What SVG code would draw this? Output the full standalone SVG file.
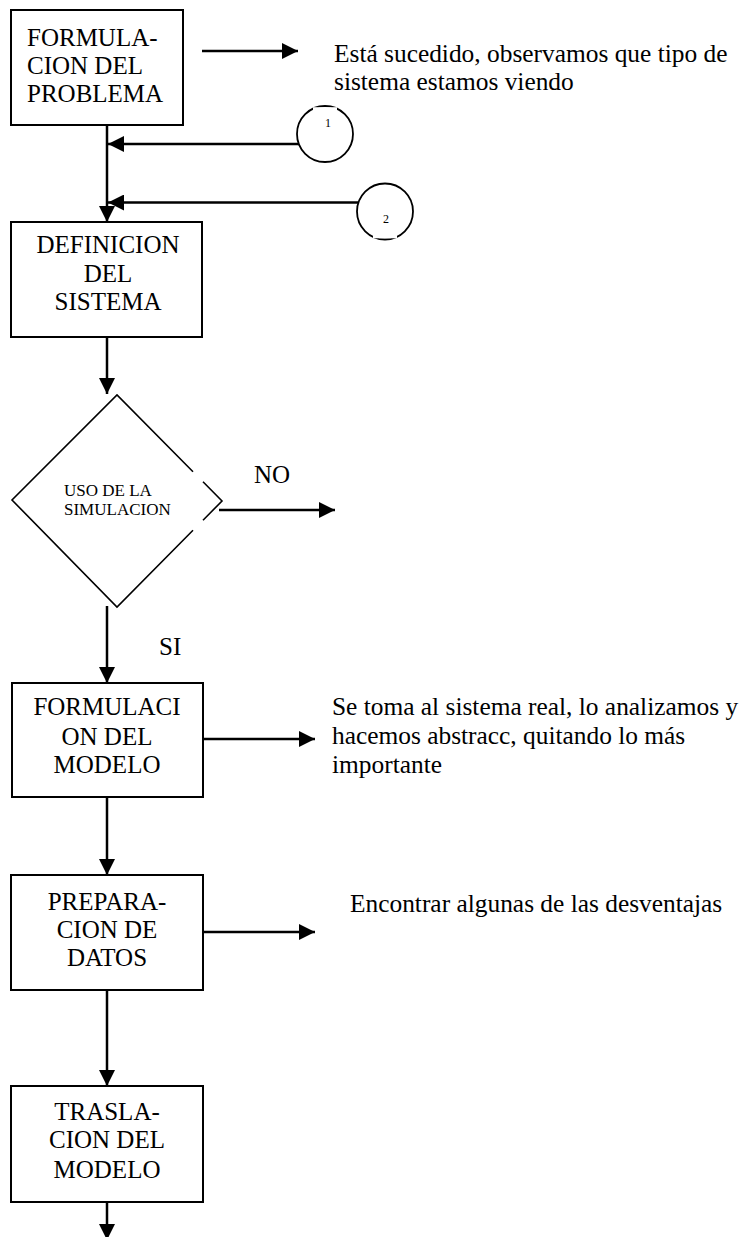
<svg xmlns="http://www.w3.org/2000/svg" width="742" height="1237" viewBox="0 0 742 1237" font-family="'Liberation Serif', 'Times New Roman', serif">
<defs>
<style>
text{font-family:"Liberation Serif","Times New Roman",serif;fill:#000}
.t{font-size:25px}
.w{font-size:25.4px}
.c{text-anchor:middle}
.s{font-size:17px}
.n{font-size:12px;text-anchor:middle}
.box{fill:#fff;stroke:#000;stroke-width:2}
.ln{fill:none;stroke:#000;stroke-width:2.5}
.dm{fill:none;stroke:#000;stroke-width:1.6}
.cr{fill:#fff;stroke:#000;stroke-width:1.8}
</style>
<marker id="ah" viewBox="0 0 16 16" refX="16" refY="8" markerWidth="16" markerHeight="16" markerUnits="userSpaceOnUse" orient="auto">
<path d="M0,0 L16,8 L0,16 Z" fill="#000"/>
</marker>
</defs>
<g id="connectors">
<line class="ln" x1="107" y1="125" x2="107" y2="222" marker-end="url(#ah)"/>
<line class="ln" x1="202" y1="51" x2="298" y2="51" marker-end="url(#ah)"/>
<line class="ln" x1="299" y1="144" x2="108" y2="144" marker-end="url(#ah)"/>
<line class="ln" x1="358.5" y1="202.5" x2="108" y2="202.5" marker-end="url(#ah)"/>
<line class="ln" x1="107" y1="337" x2="107" y2="394" marker-end="url(#ah)"/>
<line class="ln" x1="219" y1="510" x2="335" y2="510" marker-end="url(#ah)"/>
<line class="ln" x1="107" y1="606" x2="107" y2="683" marker-end="url(#ah)"/>
<line class="ln" x1="201" y1="739" x2="315" y2="739" marker-end="url(#ah)"/>
<line class="ln" x1="107" y1="797" x2="107" y2="875" marker-end="url(#ah)"/>
<line class="ln" x1="201" y1="932" x2="315" y2="932" marker-end="url(#ah)"/>
<line class="ln" x1="107" y1="990" x2="107" y2="1086" marker-end="url(#ah)"/>
<line class="ln" x1="107" y1="1202" x2="107" y2="1240" marker-end="url(#ah)"/>
</g>
<g id="formulacion-problema">
<rect class="box" x="11" y="10" width="172" height="115"/>
<text class="t" x="27" y="46">FORMULA-</text>
<text class="t" x="27" y="74">CION DEL</text>
<text class="t" x="27" y="102">PROBLEMA</text>
</g>
<g id="nota-1">
<text class="w" x="334" y="62">Está sucedido, observamos que tipo de</text>
<text class="w" x="334" y="90">sistema estamos viendo</text>
</g>
<g id="circulo-1">
<circle class="cr" cx="325" cy="134" r="28"/>
<rect x="313" y="107.2" width="24" height="9" fill="#fff"/>
<text class="n" x="328" y="127">1</text>
</g>
<g id="circulo-2">
<circle class="cr" cx="385" cy="211.5" r="28"/>
<rect x="373" y="228" width="24" height="10.3" fill="#fff"/>
<text class="n" x="386" y="223">2</text>
</g>
<g id="definicion-sistema">
<rect class="box" x="11" y="222" width="191" height="115"/>
<text class="t c" x="108" y="253">DEFINICION</text>
<text class="t c" x="108" y="282">DEL</text>
<text class="t c" x="108" y="310">SISTEMA</text>
</g>
<g id="uso-simulacion">
<path class="dm" d="M193,471.7 L117,395 L12,500 L117,607 L193,530.3 M203,520.2 L222,501 L203,481.8"/>
<text class="s" x="64" y="496">USO DE LA</text>
<text class="s" x="64" y="515">SIMULACION</text>
</g>
<g id="labels">
<text class="t" x="254" y="483">NO</text>
<text class="t" x="159" y="655">SI</text>
</g>
<g id="formulacion-modelo">
<rect class="box" x="12" y="683" width="191" height="114"/>
<text class="t c" x="107" y="715">FORMULACI</text>
<text class="t c" x="107" y="745">ON DEL</text>
<text class="t c" x="107" y="773">MODELO</text>
</g>
<g id="nota-2">
<text class="w" x="332" y="715">Se toma al sistema real, lo analizamos y</text>
<text class="w" x="332" y="744">hacemos abstracc, quitando lo más</text>
<text class="w" x="332" y="773">importante</text>
</g>
<g id="preparacion-datos">
<rect class="box" x="11" y="875" width="192" height="115"/>
<text class="t c" x="107" y="910">PREPARA-</text>
<text class="t c" x="107" y="938">CION DE</text>
<text class="t c" x="107" y="966">DATOS</text>
</g>
<g id="nota-3">
<text class="w" x="350" y="912">Encontrar algunas de las desventajas</text>
</g>
<g id="traslacion-modelo">
<rect class="box" x="11" y="1086" width="192" height="116"/>
<text class="t c" x="107" y="1120">TRASLA-</text>
<text class="t c" x="107" y="1148">CION DEL</text>
<text class="t c" x="107" y="1178">MODELO</text>
</g>
</svg>
